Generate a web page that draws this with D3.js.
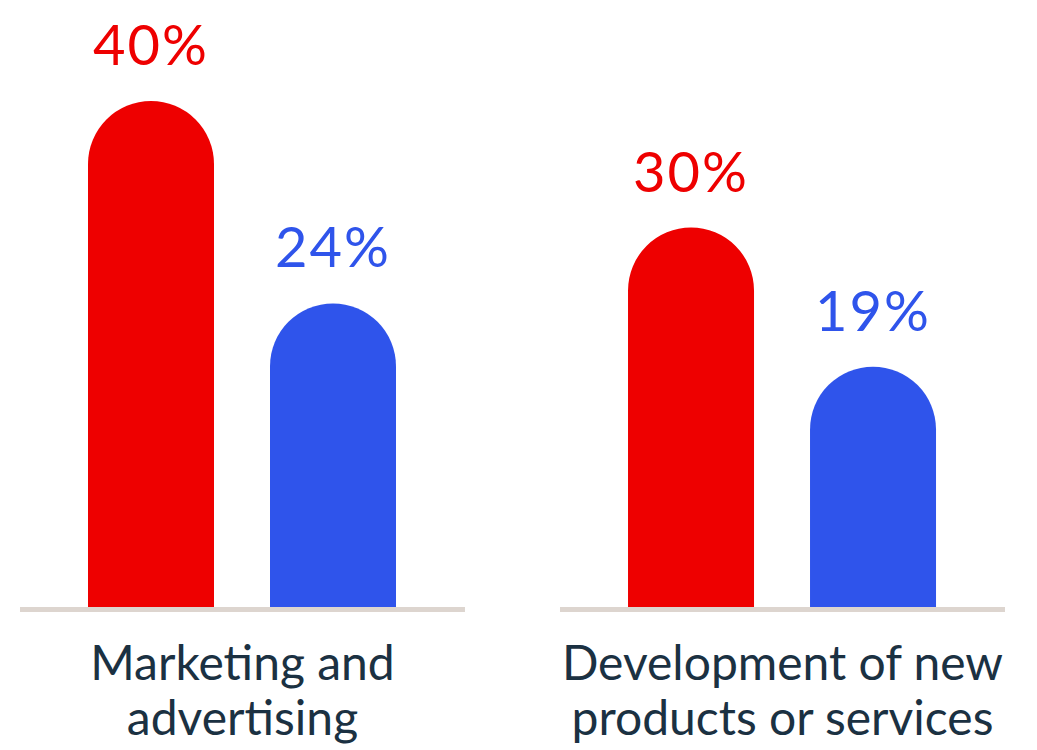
<!DOCTYPE html>
<html>
<head>
<meta charset="utf-8">
<script src="https://cdn.jsdelivr.net/npm/d3@7"></script>
<style>
  html, body { margin: 0; padding: 0; background: #ffffff; }
  svg { display: block; }
</style>
</head>
<body>
<svg id="chart" width="1037" height="750"></svg>
<script>
// Spending categories and the two compared shares (percent)
const categories = [["Marketing and", "advertising"], ["Development of new", "products or services"]];
const categoryKeys = ["marketing", "development"];
const seriesKeys = ["first", "second"];
const firstValues = [40, 30];
const secondValues = [24, 19];
const seriesColors = ["#ee0000", "#2f54eb"];

const svg = d3.select("#chart");
const baseY = 607;
const font = "Lato, 'Noto Sans', sans-serif";

const x0 = d3.scaleBand().domain(categoryKeys).range([20, 1005]).paddingInner(0.176).paddingOuter(0);
const x1 = d3.scaleBand().domain(seriesKeys).range([68, 376]).paddingInner(56 / 182).paddingOuter(0);
const y = d3.scaleLinear().domain([0, 40]).range([baseY, 101]);

const rows = categoryKeys.map((k, i) => ({
  key: k,
  label: categories[i],
  values: [firstValues[i], secondValues[i]].map((v, j) => ({ series: seriesKeys[j], value: v, color: seriesColors[j] }))
}));

// Bar with a semicircular cap on top
function roundedBar(x, w, top, bottom) {
  const r = w / 2;
  const p = d3.path();
  p.moveTo(x, bottom);
  p.lineTo(x, top + r);
  p.arc(x + r, top + r, r, Math.PI, 0, false);
  p.lineTo(x + w, bottom);
  p.closePath();
  return p.toString();
}

const groups = svg.selectAll("g.group").data(rows).join("g")
  .attr("class", "group")
  .attr("transform", d => `translate(${x0(d.key)},0)`);

groups.selectAll("path.bar").data(d => d.values).join("path")
  .attr("class", "bar")
  .attr("fill", d => d.color)
  .attr("d", d => roundedBar(x1(d.series), x1.bandwidth(), y(d.value), baseY));

groups.selectAll("text.value").data(d => d.values).join("text")
  .attr("class", "value")
  .attr("x", d => x1(d.series) + x1.bandwidth() / 2)
  .attr("y", d => y(d.value) - 36)
  .attr("text-anchor", "middle")
  .attr("fill", d => d.color)
  .style("font-family", font)
  .style("font-size", "56px")
  .style("letter-spacing", "2px")
  .text(d => d.value + "%");

// Baseline under each group
groups.append("line")
  .attr("x1", 0).attr("x2", x0.bandwidth())
  .attr("y1", baseY + 2.5).attr("y2", baseY + 2.5)
  .attr("stroke", "#ddd5cf")
  .attr("stroke-width", 5);

// Category labels, two lines each
groups.append("text")
  .attr("text-anchor", "middle")
  .attr("fill", "#1b3142")
  .style("font-family", font)
  .style("font-size", "48px")
  .selectAll("tspan").data(d => d.label).join("tspan")
  .attr("x", x0.bandwidth() / 2)
  .attr("y", (d, i) => 680 + i * 55)
  .text(d => d);
</script>
</body>
</html>
